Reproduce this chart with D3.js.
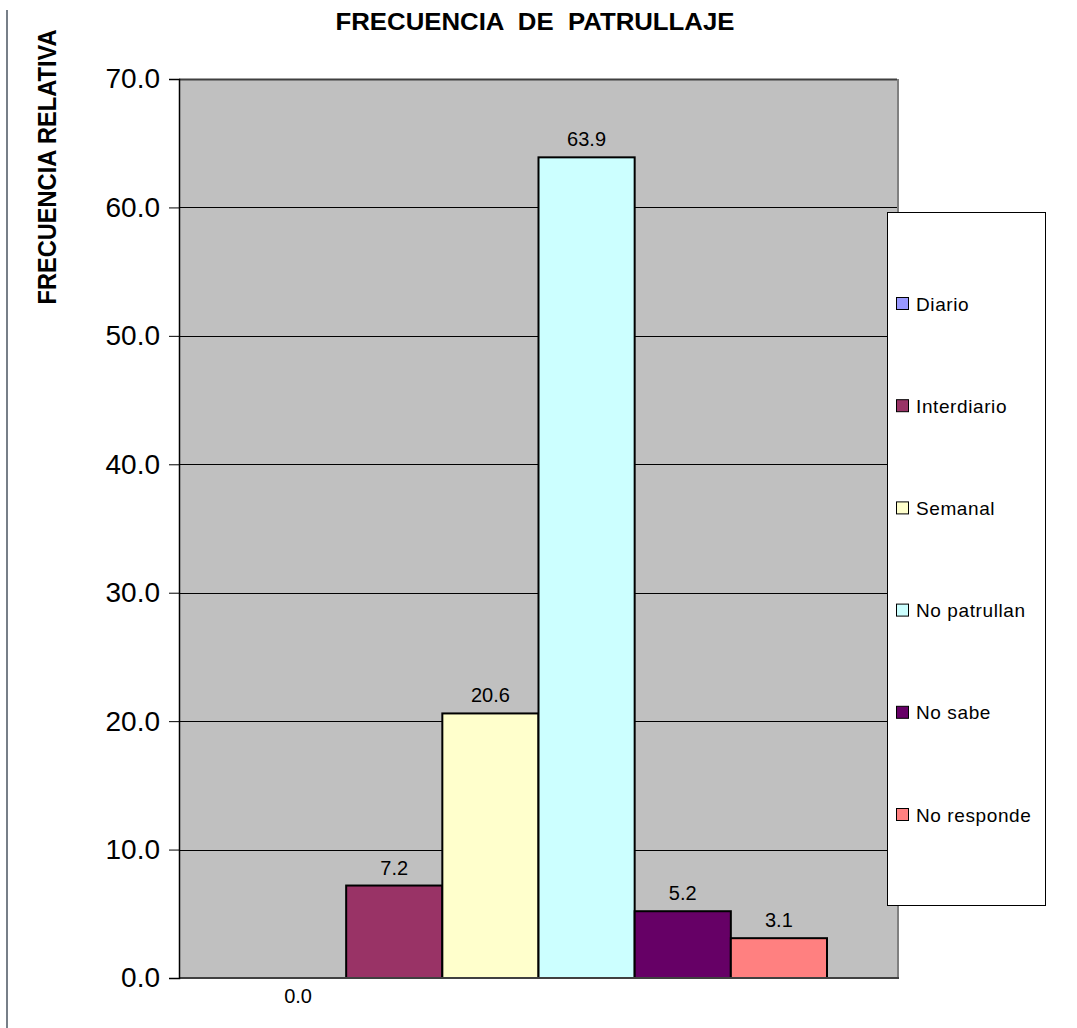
<!DOCTYPE html>
<html>
<head>
<meta charset="utf-8">
<script src="https://cdn.jsdelivr.net/npm/d3@7"></script>
<style>
  html, body { margin: 0; padding: 0; background: #ffffff; }
  svg { display: block; font-family: "Liberation Sans", Arial, sans-serif; }
</style>
</head>
<body>
<svg id="chart" width="1077" height="1028"></svg>
<script>
const chartTitle = "FRECUENCIA  DE  PATRULLAJE";
const yTitle = "FRECUENCIA RELATIVA";
const categories = ["Diario", "Interdiario", "Semanal", "No patrullan", "No sabe", "No responde"];
const values = [0.0, 7.2, 20.6, 63.9, 5.2, 3.1];
const barColors = ["#9999FF", "#993366", "#FFFFCC", "#CCFFFF", "#660066", "#FF8080"];
const yTicks = [0, 10, 20, 30, 40, 50, 60, 70];

const svg = d3.select("#chart");
const W = 1077, H = 1028;
const plot = { left: 179, right: 897, top: 79, bottom: 978 };

const y = d3.scaleLinear().domain([0, 70]).range([plot.bottom, plot.top]);
const x = d3.scaleBand().domain(categories).range([250, 827]).padding(0);
const color = d3.scaleOrdinal().domain(categories).range(barColors);
const fmt = d3.format(".1f");

// left frame line
svg.append("line").attr("x1", 7).attr("x2", 7).attr("y1", 10).attr("y2", H)
  .attr("stroke", "#4a5560").attr("stroke-width", 1.5);

// plot background
svg.append("rect").attr("x", plot.left).attr("y", plot.top)
  .attr("width", plot.right - plot.left).attr("height", plot.bottom - plot.top)
  .attr("fill", "#c0c0c0");
// right shadow border
svg.append("line").attr("x1", plot.right + 1).attr("x2", plot.right + 1)
  .attr("y1", plot.top).attr("y2", plot.bottom + 1)
  .attr("stroke", "#808080").attr("stroke-width", 2);

// gridlines
svg.append("g").selectAll("line").data(yTicks.filter(d => d > 0)).join("line")
  .attr("x1", plot.left).attr("x2", plot.right)
  .attr("y1", d => Math.round(y(d)) + 0.5).attr("y2", d => Math.round(y(d)) + 0.5)
  .attr("stroke", d => d === 70 ? "#404040" : "#000").attr("stroke-width", d => d === 70 ? 2 : 1);

// bars
svg.append("g").selectAll("rect").data(categories).join("rect")
  .attr("x", d => x(d))
  .attr("y", (d, i) => y(values[i]))
  .attr("width", x.bandwidth())
  .attr("height", (d, i) => y(0) - y(values[i]))
  .attr("fill", d => color(d))
  .attr("stroke", "#000").attr("stroke-width", 2)
  .style("display", (d, i) => values[i] > 0 ? null : "none");

// bottom axis line
svg.append("line").attr("x1", plot.left).attr("x2", plot.right + 2)
  .attr("y1", plot.bottom).attr("y2", plot.bottom)
  .attr("stroke", "#404040").attr("stroke-width", 2);

// y axis
const yAxis = svg.append("g").attr("transform", `translate(${plot.left},0)`)
  .call(d3.axisLeft(y).tickValues(yTicks).tickFormat(fmt).tickSize(10).tickPadding(9));
yAxis.select(".domain").attr("stroke", "#000").attr("stroke-width", 1.5);
yAxis.selectAll(".tick line").attr("stroke", "#000").attr("stroke-width", 1);
yAxis.selectAll(".tick text").attr("fill", "#000")
  .style("font-size", "28px").style("font-family", "'Liberation Sans', Arial, sans-serif");

// data labels
svg.append("g").selectAll("text").data(categories).join("text")
  .attr("x", d => x(d) + x.bandwidth() / 2)
  .attr("y", (d, i) => values[i] > 0 ? y(values[i]) - 11 : y(0) + 25)
  .attr("text-anchor", "middle")
  .style("font-size", "20px").attr("fill", "#000")
  .text((d, i) => fmt(values[i]));

// title
svg.append("text").attr("x", 535).attr("y", 30).attr("text-anchor", "middle")
  .style("font-size", "23px").style("font-weight", "bold").style("white-space", "pre")
  .attr("xml:space", "preserve")
  .attr("textLength", 399).attr("lengthAdjust", "spacingAndGlyphs")
  .text(chartTitle);

// y title
svg.append("text").attr("transform", "translate(56,167) rotate(-90)")
  .attr("text-anchor", "middle")
  .style("font-size", "25px").style("font-weight", "bold")
  .attr("textLength", 275).attr("lengthAdjust", "spacingAndGlyphs")
  .text(yTitle);

// legend
const lg = { x: 887, y: 212, w: 158, h: 693 };
svg.append("rect").attr("x", lg.x + 0.5).attr("y", lg.y + 0.5)
  .attr("width", lg.w).attr("height", lg.h)
  .attr("fill", "#fff").attr("stroke", "#000").attr("stroke-width", 1);
const legendY = d3.scalePoint().domain(categories).range([303.5, 814.5]);
const items = svg.append("g").selectAll("g").data(categories).join("g")
  .attr("transform", d => `translate(${lg.x + 9},${legendY(d)})`);
items.append("rect").attr("x", 0.5).attr("y", -6).attr("width", 12).attr("height", 12)
  .attr("fill", d => color(d)).attr("stroke", "#000").attr("stroke-width", 1);
items.append("text").attr("x", 20).attr("y", 7)
  .style("font-size", "19px").style("letter-spacing", "0.6px").attr("fill", "#000")
  .text(d => d);
</script>
</body>
</html>
